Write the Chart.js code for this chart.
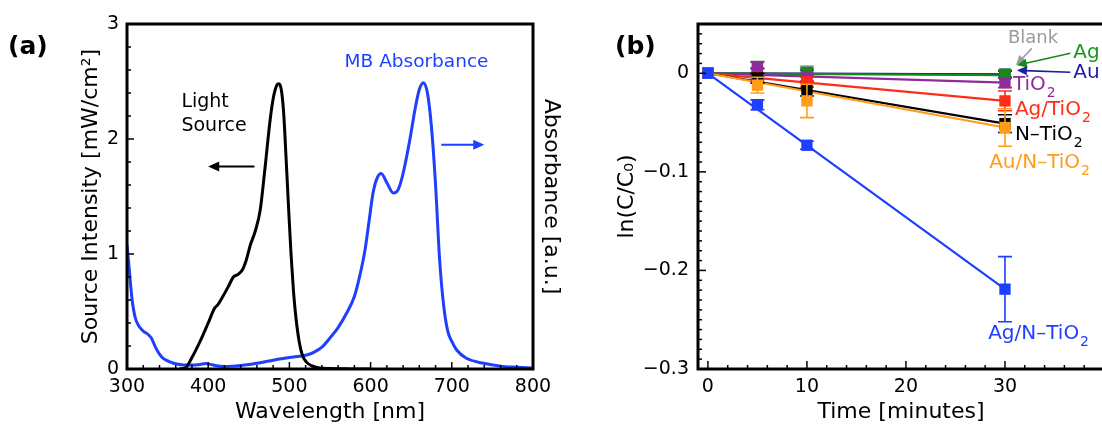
<!DOCTYPE html>
<html>
<head>
<meta charset="utf-8">
<script src="https://cdn.jsdelivr.net/npm/chart.js@4"></script>
<style>
  html, body { margin: 0; padding: 0; background: #fff; overflow: hidden; width: 1102px; height: 428px; }
  canvas { position: absolute; top: 0; }
  #chartA { left: 0; }
  #chartB { left: 560px; }
</style>
</head>
<body>
<canvas id="chartA" width="564" height="428"></canvas>
<canvas id="chartB" width="560" height="428"></canvas>
<script>
// ================= Panel (a) data =================
const sourceNm = [365, 372, 380, 390, 400, 408, 412, 418, 425, 431, 436, 442, 447, 452, 458, 464, 470, 476, 480, 484, 487, 490, 493, 496, 499, 502, 505, 508, 512, 516, 521, 527, 535, 550, 575, 600];
const sourceIntensity = [0, 0.01, 0.1, 0.24, 0.40, 0.53, 0.56, 0.63, 0.72, 0.80, 0.82, 0.86, 0.95, 1.08, 1.20, 1.38, 1.75, 2.15, 2.35, 2.46, 2.48, 2.43, 2.22, 1.82, 1.40, 1.00, 0.68, 0.45, 0.24, 0.12, 0.06, 0.03, 0.012, 0.004, 0.001, 0];
const mbNm = [300, 303, 306, 310, 315, 320, 326, 330, 335, 340, 345, 352, 360, 370, 380, 390, 397, 403, 410, 420, 430, 445, 460, 475, 490, 505, 520, 530, 540, 550, 560, 570, 580, 587, 593, 598, 603, 608, 613, 620, 628, 634, 640, 648, 655, 660, 665, 670, 675, 680, 685, 690, 695, 700, 706, 718, 739, 760, 780, 800];
const mbAbsorbance = [1.08, 0.85, 0.62, 0.45, 0.37, 0.33, 0.30, 0.27, 0.19, 0.13, 0.09, 0.065, 0.045, 0.035, 0.035, 0.04, 0.047, 0.04, 0.028, 0.022, 0.025, 0.035, 0.05, 0.07, 0.09, 0.105, 0.12, 0.145, 0.19, 0.27, 0.36, 0.48, 0.63, 0.82, 1.03, 1.28, 1.53, 1.66, 1.70, 1.62, 1.53, 1.56, 1.70, 1.98, 2.27, 2.43, 2.49, 2.40, 2.10, 1.60, 0.95, 0.55, 0.33, 0.24, 0.165, 0.093, 0.05, 0.025, 0.015, 0.008];
const wavelengthLabels = [300, 400, 500, 600, 700, 800];
const intensityLabels = [0, 1, 2, 3];

// ================= Panel (b) data =================
const times = [0, 5, 10, 30];
const fitTimes = [0, 30];
const samples = ["Ag/N–TiO2", "Au/N–TiO2", "N–TiO2", "Ag/TiO2", "TiO2", "Ag", "Au", "Blank"];
const agNTiO2 = [0, -0.032, -0.073, -0.219];
const auNTiO2 = [0, -0.012, -0.028, -0.055];
const nTiO2 = [0, -0.005, -0.017, -0.051];
const agTiO2 = [0, -0.004, -0.009, -0.028];
const tiO2 = [0, 0.005, -0.004, -0.0095];
const ag = [0, 0.003, 0.001, -0.001];
const au = [0, 0.001, 0.0, -0.001];
const blank = [0, 0.001, 0.002, -0.001];
const agNTiO2Err = [0, 0.005, 0.004, 0.033];
const auNTiO2Err = [0, 0.008, 0.017, 0.019];
const nTiO2Err = [0, 0.005, 0.006, 0.009];
const agTiO2Err = [0, 0.004, 0.005, 0.010];
const tiO2Err = [0, 0.006, 0.004, 0.005];
const agErr = [0, 0.009, 0.004, 0.004];
const auErr = [0, 0.004, 0.003, 0.003];
const blankErr = [0, 0.004, 0.005, 0.004];
const fitEnds = [-0.219, -0.055, -0.051, -0.028, -0.0095, -0.002, -0.001, -0.001];
const timeLabels = [0, 10, 20, 30];
const lnLabels = [0, -0.1, -0.2, -0.3];

const sampleValues = [agNTiO2, auNTiO2, nTiO2, agTiO2, tiO2, ag, au, blank];
const sampleErrors = [agNTiO2Err, auNTiO2Err, nTiO2Err, agTiO2Err, tiO2Err, agErr, auErr, blankErr];
const sampleColors = ["#1f3fff", "#ff9c1a", "#000000", "#ff2d16", "#8e2c9c", "#178a17", "#1c1ca8", "#9a9a9a"];

const FONT = "'DejaVu Sans', sans-serif";
Chart.defaults.font.family = FONT;
Chart.defaults.color = "#000";

const has = (list, v) => list.some(l => Math.abs(l - v) < 1e-6);

// ================= Plugins =================
const inwardTicks = {
  id: "inwardTicks",
  afterDatasetsDraw(chart, args, opts) {
    const { ctx, chartArea: a } = chart;
    ctx.save();
    ctx.strokeStyle = "#000";
    ctx.lineWidth = 1.5;
    ["x", "y"].forEach(id => {
      const s = chart.scales[id];
      s.ticks.forEach(t => {
        const len = t.label !== "" ? opts.major : opts.minor;
        const p = s.getPixelForValue(t.value);
        ctx.beginPath();
        if (id === "x") { ctx.moveTo(p, a.bottom); ctx.lineTo(p, a.bottom - len); }
        else { ctx.moveTo(a.left, p); ctx.lineTo(a.left + len, p); }
        ctx.stroke();
      });
    });
    ctx.lineWidth = opts.frame;
    ctx.strokeRect(a.left, a.top, a.right - a.left, a.bottom - a.top);
    ctx.restore();
  }
};

const errorBars = {
  id: "errorBars",
  beforeDatasetDraw(chart, args) {
    const ds = chart.data.datasets[args.index];
    if (!ds.errors) return;
    const { ctx } = chart;
    const xs = chart.scales.x, ys = chart.scales.y;
    ctx.save();
    ctx.strokeStyle = ds.backgroundColor;
    ctx.lineWidth = 1.6;
    ds.data.forEach((pt, i) => {
      const e = ds.errors[i];
      if (!e) return;
      const x = xs.getPixelForValue(pt.x);
      const y1 = ys.getPixelForValue(pt.y + e), y2 = ys.getPixelForValue(pt.y - e);
      ctx.beginPath();
      ctx.moveTo(x, y1); ctx.lineTo(x, y2);
      ctx.moveTo(x - 7, y1); ctx.lineTo(x + 7, y1);
      ctx.moveTo(x - 7, y2); ctx.lineTo(x + 7, y2);
      ctx.stroke();
    });
    ctx.restore();
  }
};

function arrowHead(ctx, x0, y0, x1, y1, len, half) {
  const ang = Math.atan2(y1 - y0, x1 - x0);
  ctx.beginPath();
  ctx.moveTo(x1, y1);
  ctx.lineTo(x1 - len * Math.cos(ang) + half * Math.sin(ang), y1 - len * Math.sin(ang) - half * Math.cos(ang));
  ctx.lineTo(x1 - len * Math.cos(ang) - half * Math.sin(ang), y1 - len * Math.sin(ang) + half * Math.cos(ang));
  ctx.closePath();
  ctx.fill();
}

const notes = {
  id: "notes",
  afterDraw(chart, args, opts) {
    const { ctx } = chart;
    const xs = chart.scales.x, ys = chart.scales.y;
    ctx.save();
    (opts.arrows || []).forEach(a => {
      const x0 = xs.getPixelForValue(a.from[0]), y0 = ys.getPixelForValue(a.from[1]);
      const x1 = xs.getPixelForValue(a.to[0]), y1 = ys.getPixelForValue(a.to[1]);
      ctx.strokeStyle = a.color; ctx.fillStyle = a.color; ctx.lineWidth = a.width;
      const ang = Math.atan2(y1 - y0, x1 - x0);
      ctx.beginPath();
      ctx.moveTo(x0, y0);
      ctx.lineTo(x1 - a.head * 0.8 * Math.cos(ang), y1 - a.head * 0.8 * Math.sin(ang));
      ctx.stroke();
      arrowHead(ctx, x0, y0, x1, y1, a.head, a.half);
    });
    ctx.textBaseline = "middle";
    ctx.textAlign = "left";
    (opts.texts || []).forEach(t => {
      const x = xs.getPixelForValue(t.x), y = ys.getPixelForValue(t.y);
      ctx.fillStyle = t.color;
      ctx.font = t.size + "px " + FONT;
      ctx.fillText(t.text, x, y);
      if (t.sub) {
        const w = ctx.measureText(t.text).width;
        ctx.font = Math.round(t.size * 0.7) + "px " + FONT;
        ctx.fillText(t.sub, x + w + 1, y + t.size * 0.4);
      }
    });
    if (opts.panel) {
      ctx.font = "bold 25px " + FONT;
      ctx.fillStyle = "#000";
      ctx.fillText(opts.panel.text, opts.panel.left, opts.panel.middle);
    }
    ctx.restore();
  }
};

// ================= Chart (a) =================
new Chart(document.getElementById("chartA"), {
  type: "line",
  data: {
    datasets: [
      { label: "Light Source", data: sourceNm.map((x, i) => ({ x, y: sourceIntensity[i] })), borderColor: "#000", borderWidth: 3, pointRadius: 0, cubicInterpolationMode: "monotone", yAxisID: "y" },
      { label: "MB Absorbance", data: mbNm.map((x, i) => ({ x, y: mbAbsorbance[i] })), borderColor: "#1f3fff", borderWidth: 3, pointRadius: 0, cubicInterpolationMode: "monotone", yAxisID: "y2" }
    ]
  },
  options: {
    responsive: false,
    animation: false,
    layout: { padding: { top: 24, right: 0, bottom: 0, left: 0 } },
    plugins: {
      legend: { display: false },
      tooltip: { enabled: false },
      inwardTicks: { major: 7, minor: 4, frame: 3 },
      notes: {
        panel: { text: "(a)", left: 8, middle: 47 },
        texts: [
          { text: "Light", x: 367, y: 2.32, color: "#000", size: 19 },
          { text: "Source", x: 367, y: 2.11, color: "#000", size: 19 },
          { text: "MB Absorbance", x: 568, y: 2.67, color: "#1f3fff", size: 18.5 }
        ],
        arrows: [
          { from: [457, 1.76], to: [400, 1.76], color: "#000", width: 2, head: 11, half: 5 },
          { from: [687, 1.95], to: [740, 1.95], color: "#1f3fff", width: 2, head: 11, half: 5 }
        ]
      }
    },
    scales: {
      x: {
        type: "linear", min: 300, max: 800,
        grid: { display: false, drawTicks: false }, border: { display: false },
        ticks: { stepSize: 20, autoSkip: false, maxRotation: 0, padding: 7, font: { size: 19 },
          callback: v => has(wavelengthLabels, v) ? String(v) : "" },
        title: { display: true, text: "Wavelength [nm]", font: { size: 22 }, padding: { top: 0, bottom: 3 } },
        afterFit: s => { s.height = 59; }
      },
      y: {
        min: 0, max: 3,
        grid: { display: false, drawTicks: false }, border: { display: false },
        ticks: { stepSize: 0.2, autoSkip: false, padding: 8, font: { size: 19 },
          callback: v => has(intensityLabels, v) ? String(Math.round(v)) : "" },
        title: { display: true, text: "Source Intensity [mW/cm²]", font: { size: 22 }, padding: { top: 78, bottom: 0 } },
        afterFit: s => { s.width = 127; }
      },
      y2: {
        position: "right", min: 0, max: 3,
        grid: { display: false, drawTicks: false }, border: { display: false },
        ticks: { display: false },
        title: { display: true, text: "Absorbance [a.u.]", font: { size: 22 }, padding: { top: 0, bottom: 0 } },
        afterFit: s => { s.width = 31; }
      }
    }
  },
  plugins: [inwardTicks, notes]
});

// ================= Chart (b) =================
const markerSets = samples.map((name, i) => ({
  label: name,
  data: times.map((t, j) => ({ x: t, y: sampleValues[i][j] })),
  errors: sampleErrors[i],
  backgroundColor: sampleColors[i],
  borderWidth: 0,
  pointStyle: "rect",
  pointRadius: 8,
  showLine: false
}));
const fitSets = samples.map((name, i) => ({
  label: name + " fit",
  data: fitTimes.map((t, j) => ({ x: t, y: j === 0 ? 0 : fitEnds[i] })),
  borderColor: sampleColors[i],
  borderWidth: 2.2,
  pointRadius: 0,
  showLine: true
}));

new Chart(document.getElementById("chartB"), {
  type: "scatter",
  data: { datasets: markerSets.concat(fitSets) },
  options: {
    responsive: false,
    animation: false,
    layout: { padding: { top: 24, right: 16, bottom: 0, left: 0 } },
    plugins: {
      legend: { display: false },
      tooltip: { enabled: false },
      inwardTicks: { major: 8, minor: 4, frame: 3 },
      notes: {
        panel: { text: "(b)", left: 55, middle: 47 },
        texts: [
          { text: "Blank", x: 30.3, y: 0.0355, color: "#9a9a9a", size: 18 },
          { text: "Ag", x: 36.9, y: 0.021, color: "#1a9a1a", size: 20 },
          { text: "Au", x: 36.9, y: 0.0, color: "#1c1ca8", size: 20 },
          { text: "TiO", sub: "2", x: 30.8, y: -0.012, color: "#8e2c9c", size: 20 },
          { text: "Ag/TiO", sub: "2", x: 31.0, y: -0.0375, color: "#ff2d16", size: 20 },
          { text: "N–TiO", sub: "2", x: 31.0, y: -0.0628, color: "#000", size: 20 },
          { text: "Au/N–TiO", sub: "2", x: 28.4, y: -0.091, color: "#ff9c1a", size: 20 },
          { text: "Ag/N–TiO", sub: "2", x: 28.3, y: -0.2645, color: "#1f3fff", size: 20 }
        ],
        arrows: [
          { from: [32.7, 0.0253], to: [31.1, 0.0081], color: "#9a9a9a", width: 1.6, head: 10, half: 4.5 },
          { from: [36.6, 0.0203], to: [31.2, 0.0081], color: "#178a17", width: 1.6, head: 10, half: 4.5 },
          { from: [36.6, 0.001], to: [31.2, 0.003], color: "#1c1ca8", width: 1.6, head: 10, half: 4.5 }
        ]
      }
    },
    scales: {
      x: {
        type: "linear", min: -1, max: 40,
        grid: { display: false, drawTicks: false }, border: { display: false },
        ticks: { stepSize: 2, includeBounds: false, autoSkip: false, maxRotation: 0, padding: 7, font: { size: 19 },
          callback: v => has(timeLabels, v) ? String(v) : "" },
        title: { display: true, text: "Time [minutes]", font: { size: 22 }, padding: { top: 0, bottom: 3 } },
        afterFit: s => { s.height = 59; }
      },
      y: {
        min: -0.3, max: 0.05,
        grid: { display: false, drawTicks: false }, border: { display: false },
        ticks: { stepSize: 0.01, autoSkip: false, padding: 9, font: { size: 19 },
          callback: v => has(lnLabels, v) ? (Math.abs(v) < 1e-9 ? "0" : "−" + Math.abs(v).toFixed(1)) : "" },
        title: { display: true, text: "ln(C/C₀)", font: { size: 22 }, padding: { top: 54, bottom: 0 } },
        afterFit: s => { s.width = 138; }
      }
    }
  },
  plugins: [inwardTicks, errorBars, notes]
});
</script>
</body>
</html>
